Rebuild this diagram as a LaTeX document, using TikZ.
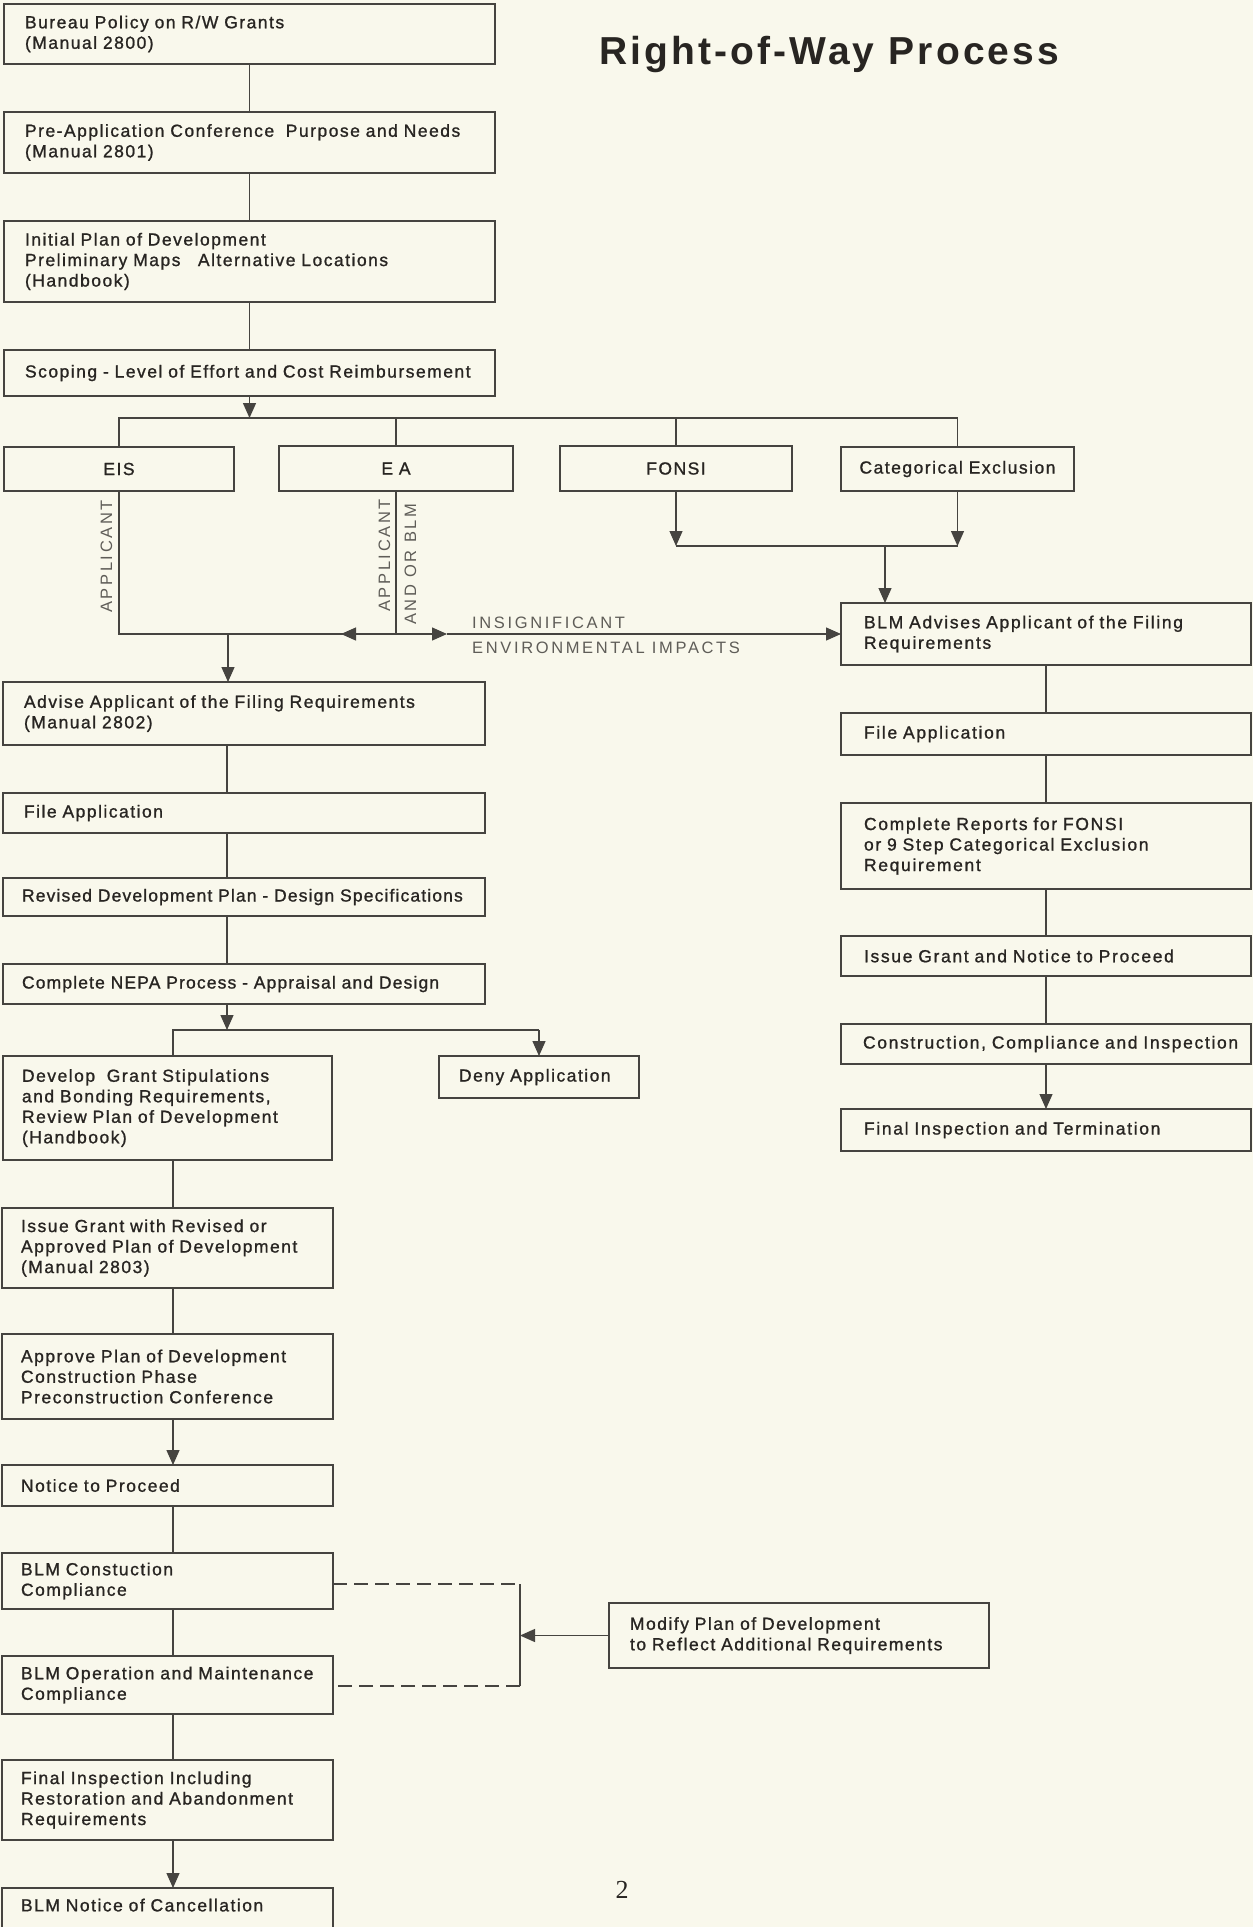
\documentclass[tikz,border=0pt]{standalone}
\usepackage{fontspec}
\setmainfont{Liberation Sans}
\newfontfamily\boxfamily[LetterSpace=8.5,FakeBold=1.1]{Liberation Sans}
\newfontfamily\boxtightfamily[LetterSpace=6.5,FakeBold=1.1]{Liberation Sans}
\newfontfamily\rboxfamily[LetterSpace=9.5,FakeBold=1.1]{Liberation Sans}
\newfontfamily\titlefamily[LetterSpace=8]{Liberation Sans}
\newfontfamily\lightfamily[LetterSpace=16]{Liberation Sans}
\newfontfamily\pagefamily{Liberation Serif}
\usetikzlibrary{arrows.meta}
\definecolor{bgc}{RGB}{249,248,236}
\definecolor{linec}{RGB}{70,68,64}
\definecolor{txtc}{RGB}{40,37,34}
\definecolor{lightc}{RGB}{95,93,88}
\tikzset{
  box/.style={draw=linec, line width=1.3pt, anchor=north west, align=left,
    inner xsep=21pt, inner ysep=2pt, outer sep=0pt, text=txtc,
    font=\boxfamily\fontsize{17.5}{20.5}\selectfont},
  tightbox/.style={box, font=\boxtightfamily\fontsize{17.5}{20.5}\selectfont},
  rbox/.style={box, inner xsep=23pt, font=\rboxfamily\fontsize{17.5}{20.5}\selectfont},
  cbox/.style={box, align=center, inner xsep=4pt},
  conn/.style={draw=linec, line width=1.3pt},
  arr/.style={conn, -{Triangle[length=15pt,width=13pt]}},
  dashconn/.style={conn, dash pattern=on 14pt off 7pt},
  lightlbl/.style={inner sep=0pt, text=lightc, font=\lightfamily\fontsize{16.5}{20}\selectfont},
}
\begin{document}
\begin{tikzpicture}[x=1pt,y=-1pt]
\useasboundingbox (0,0) rectangle (1253,1927);
\fill[bgc] (0,0) rectangle (1253,1927);

% title and page number
\node[anchor=base west, inner sep=0pt, text=txtc, font=\titlefamily\bfseries\fontsize{39}{46}\selectfont] (title) at (599,65) {Right-of-Way Process};
\node[inner sep=0pt, text=txtc, font=\pagefamily\fontsize{26}{30}\selectfont] (pagenum) at (622,1890) {2};

% left column, top
\node[box, minimum width=491pt, minimum height=60pt, text width=449pt] (b1) at (4,4) {Bureau Policy on R/W Grants\\(Manual 2800)};
\node[box, minimum width=491pt, minimum height=61pt, text width=449pt] (b2) at (4,112) {\mbox{Pre-Application Conference\ \ Purpose and Needs}\\(Manual 2801)};
\node[box, minimum width=491pt, minimum height=81pt, text width=449pt] (b3) at (4,221) {Initial Plan of Development\\Preliminary Maps\ \ \ Alternative Locations\\(Handbook)};
\node[box, minimum width=491pt, minimum height=46pt, text width=449pt, inner xsep=20pt] (b4) at (4,350) {\mbox{Scoping - Level of Effort and Cost Reimbursement}};

% four branches
\node[cbox, minimum width=230pt, minimum height=44pt, text width=222pt] (eis) at (4,447) {EIS};
\node[cbox, minimum width=234pt, minimum height=45pt, text width=226pt] (ea) at (279,446) {E A};
\node[cbox, minimum width=232pt, minimum height=45pt, text width=224pt] (fonsi) at (560,446) {FONSI};
\node[cbox, minimum width=233pt, minimum height=44pt, text width=225pt] (catex) at (841,447) {Categorical Exclusion};

% left column, middle
\node[box, minimum width=482pt, minimum height=63pt, text width=440pt] (advise) at (3,682) {\mbox{Advise Applicant of the Filing Requirements}\\(Manual 2802)};
\node[box, minimum width=482pt, minimum height=40pt, text width=440pt] (fileL) at (3,793) {File Application};
\node[tightbox, minimum width=482pt, minimum height=38pt, text width=444pt, inner xsep=19pt] (revised) at (3,878) {\mbox{Revised Development Plan - Design Specifications}};
\node[tightbox, minimum width=482pt, minimum height=40pt, text width=444pt, inner xsep=19pt] (nepa) at (3,964) {\mbox{Complete NEPA Process - Appraisal and Design}};
\node[box, minimum width=329pt, minimum height=104pt, text width=291pt, inner xsep=19pt] (develop) at (3,1056) {Develop\ \ Grant Stipulations\\and Bonding Requirements,\\Review Plan of Development\\(Handbook)};
\node[box, minimum width=200pt, minimum height=42pt, text width=160pt, inner xsep=20pt] (deny) at (439,1056) {\mbox{Deny Application}};

% left column, lower
\node[box, minimum width=331pt, minimum height=80pt, text width=293pt, inner xsep=19pt] (issueL) at (2,1208) {Issue Grant with Revised or\\\mbox{Approved Plan of Development}\\(Manual 2803)};
\node[box, minimum width=331pt, minimum height=85pt, text width=293pt, inner xsep=19pt] (approve) at (2,1334) {Approve Plan of Development\\Construction Phase\\Preconstruction Conference};
\node[box, minimum width=331pt, minimum height=41pt, text width=293pt, inner xsep=19pt] (notice) at (2,1465) {Notice to Proceed};
\node[box, minimum width=331pt, minimum height=56pt, text width=293pt, inner xsep=19pt] (bcons) at (2,1553) {BLM Constuction\\Compliance};
\node[box, minimum width=331pt, minimum height=58pt, text width=293pt, inner xsep=19pt] (bop) at (2,1656) {\mbox{BLM Operation and Maintenance}\\Compliance};
\node[box, minimum width=331pt, minimum height=80pt, text width=293pt, inner xsep=19pt] (finalL) at (2,1760) {Final Inspection Including\\\mbox{Restoration and Abandonment}\\Requirements};
\node[box, minimum width=331pt, minimum height=60pt, text width=293pt, inner xsep=19pt, text depth=26pt] (cancel) at (2,1888) {BLM Notice of Cancellation};
\node[box, minimum width=380pt, minimum height=65pt, text width=338pt] (modify) at (609,1603) {Modify Plan of Development\\\mbox{to Reflect Additional Requirements}};

% right column
\node[rbox, minimum width=410pt, minimum height=62pt, text width=364pt] (blmadv) at (841,603) {\mbox{BLM Advises Applicant of the Filing}\\Requirements};
\node[rbox, minimum width=410pt, minimum height=42pt, text width=364pt] (fileR) at (841,713) {File Application};
\node[rbox, minimum width=410pt, minimum height=86pt, text width=364pt] (reports) at (841,803) {Complete Reports for FONSI\\\mbox{or 9 Step Categorical Exclusion}\\Requirement};
\node[rbox, minimum width=410pt, minimum height=40pt, text width=364pt] (issueR) at (841,936) {\mbox{Issue Grant and Notice to Proceed}};
\node[rbox, minimum width=410pt, minimum height=40pt, text width=366pt, inner xsep=22pt] (constr) at (841,1024) {\mbox{Construction, Compliance and Inspection}};
\node[rbox, minimum width=410pt, minimum height=42pt, text width=364pt] (finalR) at (841,1109) {\mbox{Final Inspection and Termination}};

% labels
\node[lightlbl, rotate=90, anchor=base west] (lblA) at (112,613) {APPLICANT};
\node[lightlbl, rotate=90, anchor=base west] (lblB) at (390,612) {APPLICANT};
\node[lightlbl, rotate=90, anchor=base west] (lblC) at (416,625) {AND OR BLM};
\node[lightlbl, anchor=base west] (lblD) at (472,628) {INSIGNIFICANT};
\node[lightlbl, anchor=base west] (lblE) at (472,653) {ENVIRONMENTAL IMPACTS};

% helper coordinates
\coordinate (barL) at (119,418);
\coordinate (barR) at (957.5,418);
\coordinate (jE) at (396,634);
\coordinate (jA) at (228,634);
\coordinate (tipL) at (341,634);
\coordinate (tipR) at (447,634);
\coordinate (jF) at (885,546);
\coordinate (colA) at (227,0);
\coordinate (nL) at (173,1030);
\coordinate (nR) at (539,1030);
\coordinate (colB) at (173,0);
\coordinate (d1) at (520,1584);
\coordinate (d2) at (520,1686);

% connectors, top
\draw[conn] (b1.south) -- (b2.north);
\draw[conn] (b2.south) -- (b3.north);
\draw[conn] (b3.south) -- (b4.north);
\draw[arr] (b4.south) -- (b4.south |- barL);
\draw[conn] (eis.north) -- (barL) -- (barR) -- (catex.north);
\draw[conn] (ea.north) -- (ea.north |- barL);
\draw[conn] (fonsi.north) -- (fonsi.north |- barL);

% EIS / EA merge
\draw[conn] (eis.south) |- (jE);
\draw[conn] (ea.south) -- (jE);
\draw[arr] (jE) -- (tipL);
\draw[arr] (jE) -- (tipR);
\draw[arr] (tipR) -- (blmadv.west);
\draw[arr] (jA) -- (jA |- advise.north);

% FONSI / CatEx merge
\draw[arr] (fonsi.south) -- (fonsi.south |- jF);
\draw[arr] (catex.south) -- (catex.south |- jF);
\draw[conn] (fonsi.south |- jF) -- (catex.south |- jF);
\draw[arr] (jF) -- (jF |- blmadv.north);

% left middle
\draw[conn] (colA |- advise.south) -- (colA |- fileL.north);
\draw[conn] (colA |- fileL.south) -- (colA |- revised.north);
\draw[conn] (colA |- revised.south) -- (colA |- nepa.north);
\draw[arr] (colA |- nepa.south) -- (colA |- nL);
\draw[conn] (nL |- develop.north) -- (nL) -- (nR);
\draw[arr] (nR) -- (deny.north);

% left lower
\draw[conn] (colB |- develop.south) -- (colB |- issueL.north);
\draw[conn] (colB |- issueL.south) -- (colB |- approve.north);
\draw[arr] (colB |- approve.south) -- (colB |- notice.north);
\draw[conn] (colB |- notice.south) -- (colB |- bcons.north);
\draw[conn] (colB |- bcons.south) -- (colB |- bop.north);
\draw[conn] (colB |- bop.south) -- (colB |- finalL.north);
\draw[arr] (colB |- finalL.south) -- (colB |- cancel.north);

% feedback loop
\draw[dashconn] (bcons.east |- d1) -- (d1);
\draw[conn] (d1) -- (d2);
\draw[dashconn] (d2) -- (bop.east |- d2);
\draw[arr] (modify.west) -- (d1 |- modify.west);

% right column
\draw[conn] (blmadv.south) -- (fileR.north);
\draw[conn] (fileR.south) -- (reports.north);
\draw[conn] (reports.south) -- (issueR.north);
\draw[conn] (issueR.south) -- (constr.north);
\draw[arr] (constr.south) -- (finalR.north);
\end{tikzpicture}
\end{document}
